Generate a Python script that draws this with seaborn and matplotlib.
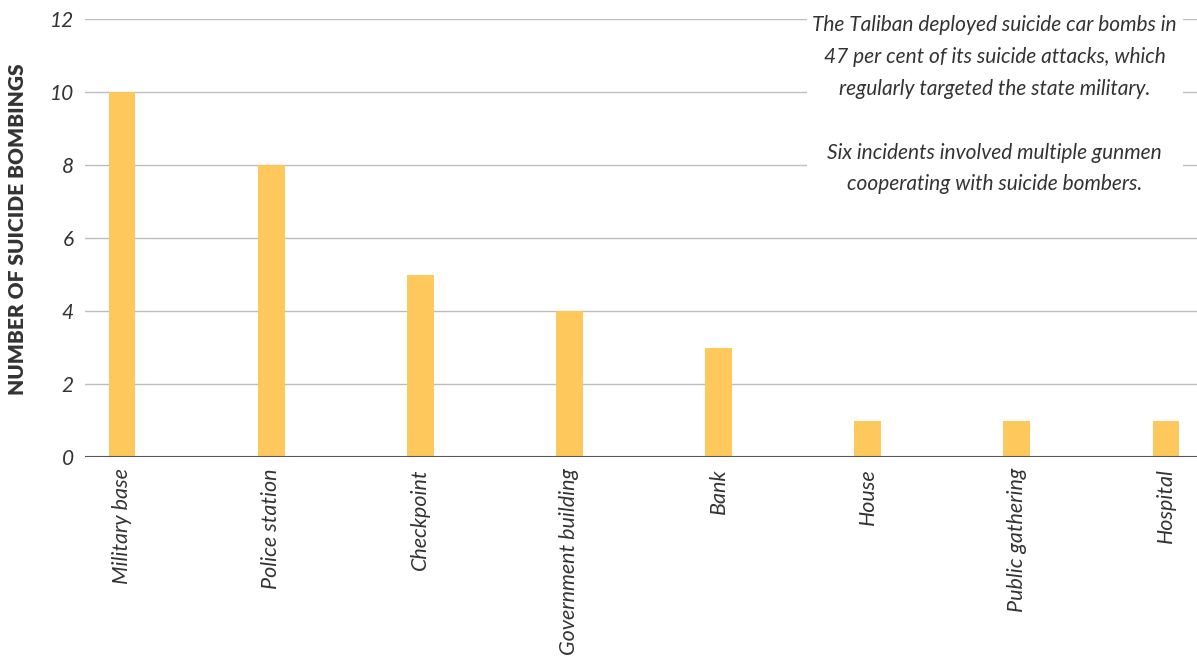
import pandas as pd
import matplotlib.pyplot as plt
import seaborn as sns

# Suicide bombing targets (Taliban)
targets = ["Military base", "Police station", "Checkpoint", "Government building",
           "Bank", "House", "Public gathering", "Hospital"]
counts = [10, 8, 5, 4, 3, 1, 1, 1]
y_ticks = [0, 2, 4, 6, 8, 10, 12]

note = ("The Taliban deployed suicide car bombs in\n"
        "47 per cent of its suicide attacks, which\n"
        "regularly targeted the state military.\n\n"
        "Six incidents involved multiple gunmen\n"
        "cooperating with suicide bombers.")

df = pd.DataFrame({"target": targets, "count": counts})

sns.set_theme(style="white")
plt.rcParams["font.family"] = ["Lato", "DejaVu Sans"]

fig = plt.figure(figsize=(11.97, 6.61), dpi=100)
ax = fig.add_axes([0.071, 0.3086, 0.929, 0.6625])

sns.barplot(data=df, x="target", y="count", color="#FEC85C", saturation=1,
            width=0.18, linewidth=0, ax=ax)

ax.set_ylim(0, 12)
ax.set_xlim(-0.248, 7.208)
ax.set_yticks(y_ticks)
ax.set_yticklabels([str(v) for v in y_ticks], fontsize=15, style="italic", color="#333333")
ax.set_xticks(range(len(targets)))
ax.set_xticklabels(targets, rotation=90, fontsize=15.5, style="italic", color="#333333")
ax.tick_params(axis="both", length=0, pad=8)

for v in y_ticks[1:]:
    ax.axhline(v, color="#bdbdbd", lw=1, zorder=0)
ax.axhline(0, color="#555555", lw=1.5, zorder=3)

for s in ax.spines.values():
    s.set_visible(False)

ax.set_xlabel("")
ax.set_ylabel("NUMBER OF SUICIDE BOMBINGS", fontsize=15, fontweight="heavy",
              color="#333333")
ax.yaxis.set_label_coords(-0.052, 0.52)

ax.text(0.818, 1.009, note, transform=ax.transAxes, ha="center", va="top",
        fontsize=15, style="italic", color="#333333", linespacing=1.74,
        bbox=dict(facecolor="white", edgecolor="none", pad=4))

fig.savefig("out.png", dpi=100)
